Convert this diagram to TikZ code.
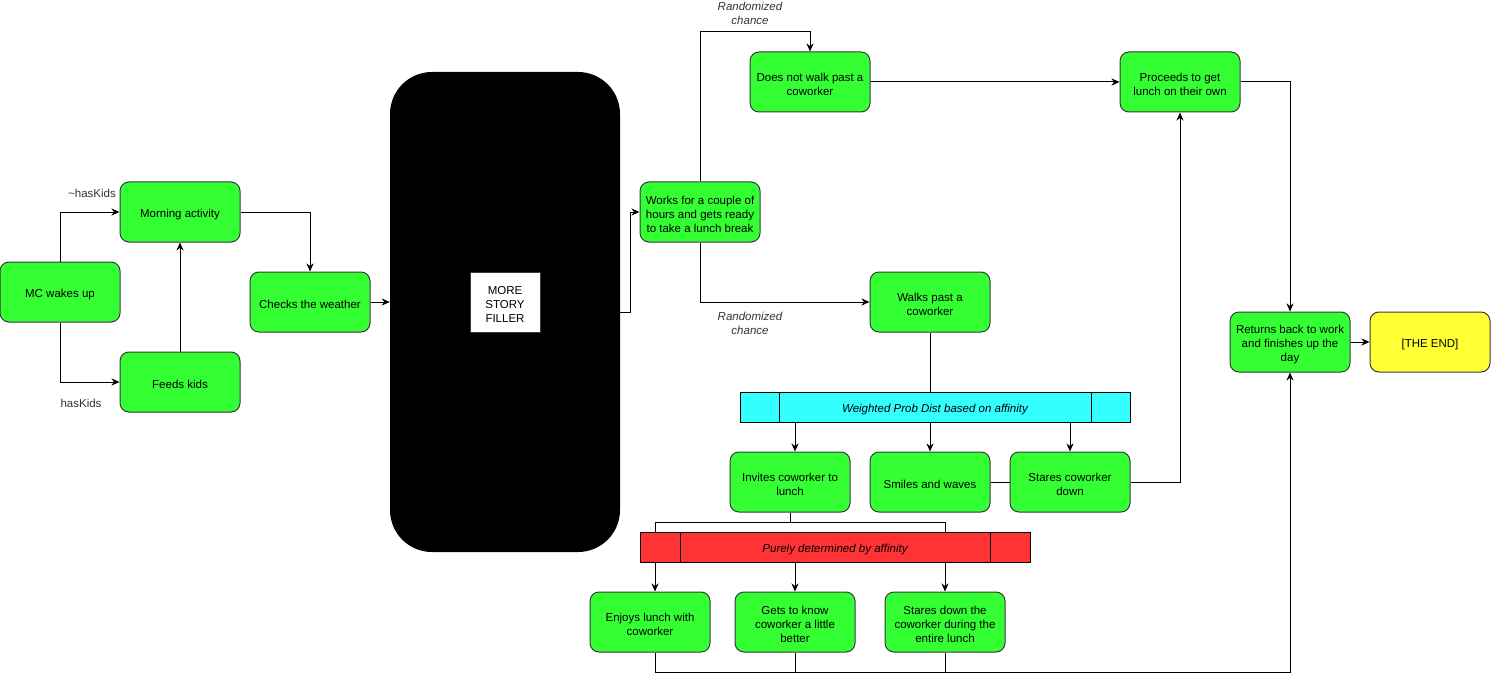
\documentclass[tikz,border=0pt]{standalone}
\usepackage{fontspec}
\setmainfont{Liberation Sans}
\usetikzlibrary{arrows.meta}
\definecolor{boxgreen}{HTML}{33FF33}
\definecolor{boxyellow}{HTML}{FFFF33}
\definecolor{barcyan}{HTML}{33FFFF}
\definecolor{barred}{HTML}{FF3333}
\definecolor{edgegray}{HTML}{36393D}
\definecolor{labelgray}{HTML}{333333}
% a box node (#2) at #3 carrying the centred text #4
\newcommand\boxnode[4][stepbox]{%
  \node[#1] (#2) at #3 {};
  \node[boxtext] (#2-text) at ([yshift=-2.5pt]#2.center) {#4};}
\begin{document}
\begin{tikzpicture}[x=1pt,y=-1pt,
  font=\fontsize{11.5pt}{14pt}\selectfont,
  stepbox/.style={draw=edgegray,line width=1pt,fill=boxgreen,rounded corners=9pt,
    minimum width=120pt,minimum height=60pt,inner sep=0pt},
  endbox/.style={stepbox,fill=boxyellow},
  boxtext/.style={align=center,inner sep=0pt},
  probbar/.style={draw=black,line width=1pt,minimum width=390pt,minimum height=30pt,
    inner sep=0pt,text height=13pt,text depth=2.5pt,
    font=\fontsize{11.5pt}{14pt}\selectfont\itshape},
  arr/.style={draw=black,line width=1pt,-{Stealth[length=8pt,width=7pt,inset=2.5pt]}},
  ln/.style={draw=black,line width=1pt},
  lbl/.style={text=labelgray,align=center,inner sep=0pt},
  rlbl/.style={lbl,font=\fontsize{11.5pt}{14pt}\selectfont\itshape}]
\useasboundingbox (0,0) rectangle (1492,682);

% story blocks
\boxnode{mc}{(60,292)}{MC wakes up}
\boxnode{morning}{(180,212)}{Morning activity}
\boxnode{feeds}{(180,382)}{Feeds kids}
\boxnode{weather}{(310,302)}{Checks the weather}
\node[fill=black,rounded corners=42pt,minimum width=230pt,minimum height=480pt,inner sep=0pt] (filler) at (505,312) {};
\boxnode[draw=edgegray,fill=white,minimum width=70pt,minimum height=60pt,inner sep=0pt]{fillertxt}{(505,302)}{MORE\\STORY\\FILLER}
\boxnode{works}{(700,212)}{Works for a couple of\\hours and gets ready\\to take a lunch break}
\boxnode{nowalk}{(810,82)}{Does not walk past a\\coworker}
\boxnode{walks}{(930,302)}{Walks past a\\coworker}
\boxnode{proceeds}{(1180,82)}{Proceeds to get\\lunch on their own}
\boxnode{returns}{(1290,342)}{Returns back to work\\and finishes up the\\day}
\boxnode[endbox]{theend}{(1430,342)}{[THE END]}

% weighted choice
\node[probbar,fill=barcyan] (wbar) at (935,407) {Weighted Prob Dist based on affinity};
\draw[ln] (779,392) -- (779,422) (1091,392) -- (1091,422);
\boxnode{invites}{(790,482)}{Invites coworker to\\lunch}
\boxnode{smiles}{(930,482)}{Smiles and waves}
\boxnode{stares}{(1070,482)}{Stares coworker\\down}

% affinity outcome
\node[probbar,fill=barred] (rbar) at (835,547) {Purely determined by affinity};
\draw[ln] (680,532) -- (680,562) (990,532) -- (990,562);
\boxnode{enjoys}{(650,622)}{Enjoys lunch with\\coworker}
\boxnode{gets}{(795,622)}{Gets to know\\coworker a little\\better}
\boxnode{staresdown}{(945,622)}{Stares down the\\coworker during the\\entire lunch}

% branch labels
\node[lbl,anchor=east] (lnokids) at (116,193) {\textasciitilde hasKids};
\node[lbl] (lkids) at (81,403) {hasKids};
\node[rlbl] (lrand1) at (750,13) {Randomized\\chance};
\node[rlbl] (lrand2) at (750,323) {Randomized\\chance};

% connectors
\draw[arr] (mc.north) |- (morning.west);
\draw[arr] (mc.south) |- (feeds.west);
\draw[arr] (feeds.north) -- (morning.south);
\draw[arr] (morning.east) -| (weather.north);
\draw[arr] (weather.east) -- (weather.east -| filler.west);
\draw[arr] (filler.east) -- ++(10,0) |- (works.west);
\draw[arr] (works.north) -- ++(0,-150) -| (nowalk.north);
\draw[arr] (works.south) |- (walks.west);
\draw[arr] (nowalk.east) -- (proceeds.west);
\draw[arr] (proceeds.east) -| (returns.north);
\draw[arr] (returns.east) -- (theend.west);

\draw[ln] (walks.south) -- (walks.south |- wbar.north);
\draw[arr] ([xshift=5pt]invites.north |- wbar.south) -- ([xshift=5pt]invites.north);
\draw[arr] (smiles.north |- wbar.south) -- (smiles.north);
\draw[arr] (stares.north |- wbar.south) -- (stares.north);
\draw[ln] (smiles.east) -- (stares.west);
\draw[arr] (stares.east) -| (proceeds.south);

\draw[ln] (invites.south) -- ++(0,10) coordinate (split);
\draw[ln] ([xshift=5pt]enjoys.north |- rbar.north) -- ([xshift=5pt]enjoys.north |- split)
  -- (staresdown.north |- split) -- (staresdown.north |- rbar.north);
\draw[arr] ([xshift=5pt]enjoys.north |- rbar.south) -- ([xshift=5pt]enjoys.north);
\draw[arr] (gets.north |- rbar.south) -- (gets.north);
\draw[arr] (staresdown.north |- rbar.south) -- (staresdown.north);

\draw[arr] ([xshift=5pt]enjoys.south) -- ++(0,20) coordinate (joinl) -| (returns.south);
\draw[ln] (gets.south) -- (gets.south |- joinl);
\draw[ln] (staresdown.south) -- (staresdown.south |- joinl);
\end{tikzpicture}
\end{document}
